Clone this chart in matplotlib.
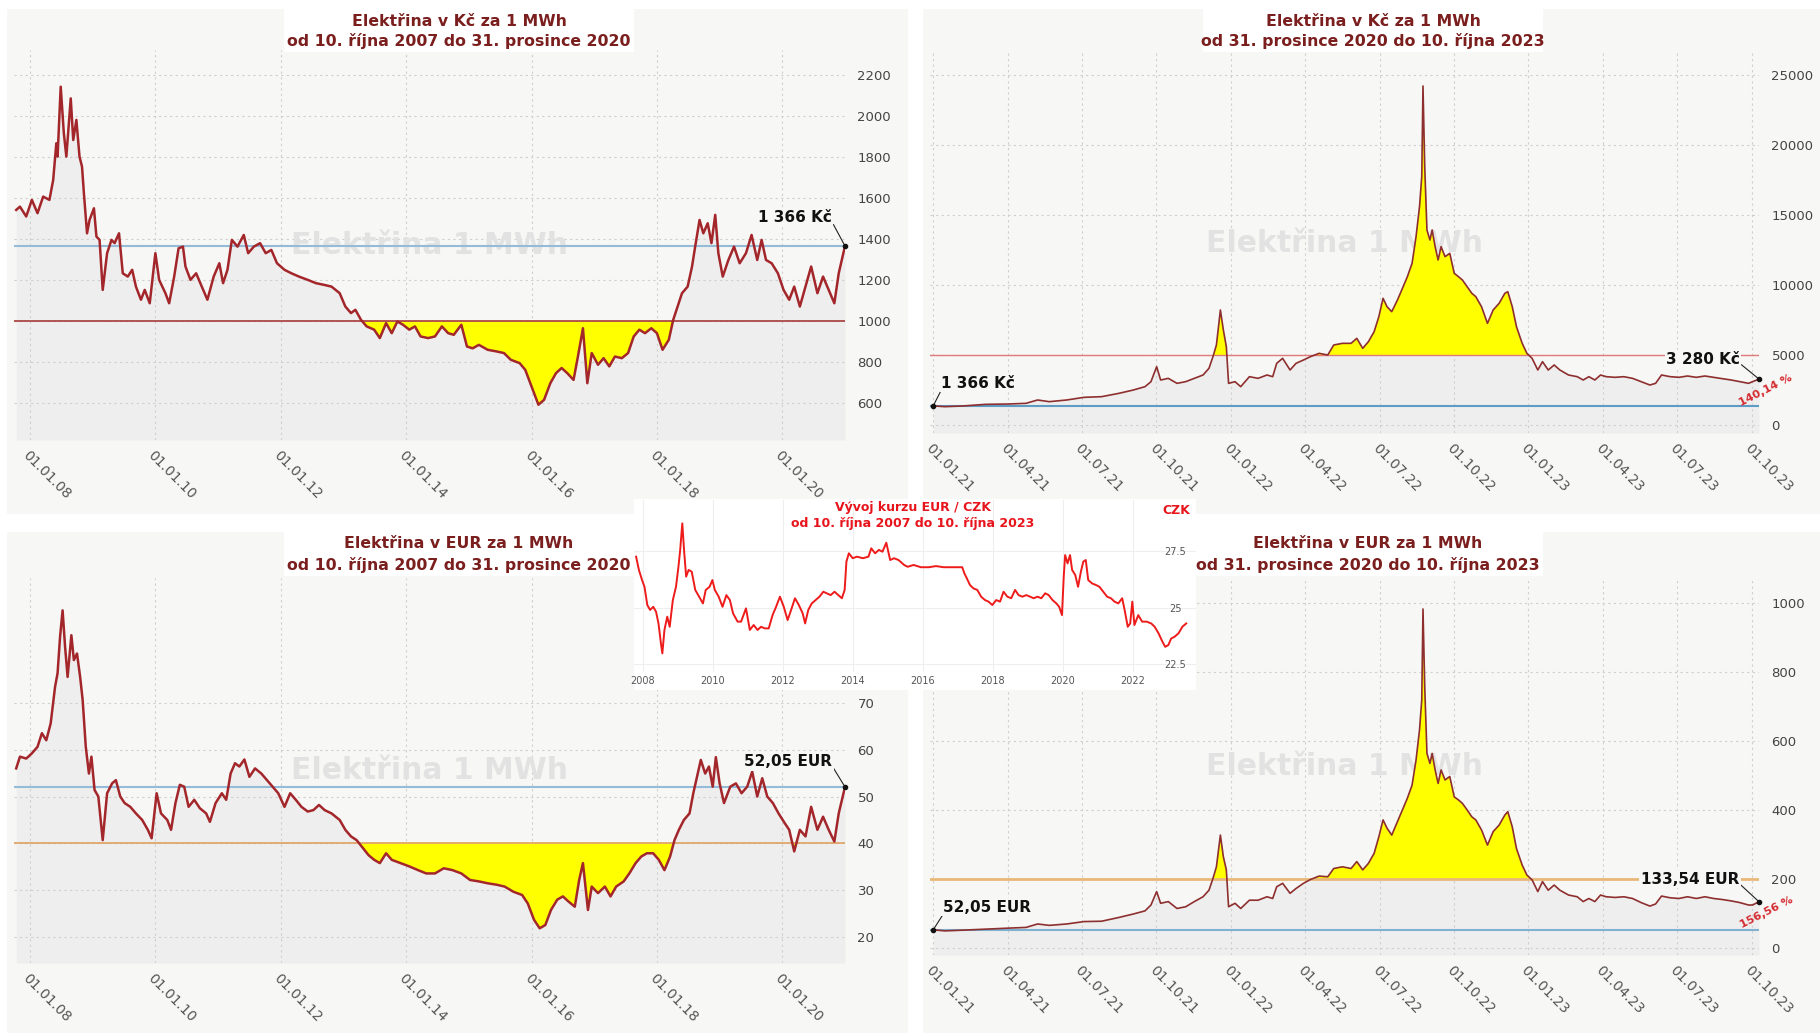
from matplotlib import pyplot as plt
from matplotlib.patches import Rectangle
import numpy as np

W, H = 1820, 1034

# Elektřina, 10.10.2007 - 31.12.2020 (x in decimal years)
czk_old_t = [2007.78, 2007.84, 2007.94, 2008.03, 2008.12, 2008.21, 2008.31, 2008.37, 2008.42, 2008.44,
             2008.49, 2008.54, 2008.58, 2008.65, 2008.69, 2008.74, 2008.79, 2008.83, 2008.86, 2008.91,
             2008.95, 2009.02, 2009.06, 2009.11, 2009.16, 2009.23, 2009.30, 2009.35, 2009.42, 2009.48,
             2009.56, 2009.63, 2009.69, 2009.77, 2009.83, 2009.91, 2010.00, 2010.06, 2010.16, 2010.22,
             2010.30, 2010.37, 2010.44, 2010.48, 2010.56, 2010.65, 2010.74, 2010.83, 2010.93, 2011.02,
             2011.08, 2011.15, 2011.22, 2011.31, 2011.41, 2011.48, 2011.57, 2011.67, 2011.76, 2011.85,
             2011.94, 2012.06, 2012.17, 2012.29, 2012.43, 2012.56, 2012.70, 2012.81, 2012.94, 2013.03,
             2013.12, 2013.19, 2013.28, 2013.37, 2013.49, 2013.58, 2013.68, 2013.77, 2013.86, 2013.95,
             2014.05, 2014.14, 2014.23, 2014.35, 2014.46, 2014.57, 2014.67, 2014.76, 2014.88, 2014.97,
             2015.06, 2015.16, 2015.30, 2015.44, 2015.56, 2015.67, 2015.81, 2015.90, 2015.96, 2016.04,
             2016.11, 2016.20, 2016.30, 2016.39, 2016.48, 2016.57, 2016.67, 2016.74, 2016.82, 2016.89,
             2016.96, 2017.06, 2017.15, 2017.24, 2017.33, 2017.44, 2017.54, 2017.63, 2017.72, 2017.81,
             2017.91, 2018.00, 2018.09, 2018.19, 2018.26, 2018.33, 2018.40, 2018.49, 2018.56, 2018.61,
             2018.68, 2018.74, 2018.81, 2018.87, 2018.93, 2018.98, 2019.05, 2019.14, 2019.23, 2019.32,
             2019.42, 2019.51, 2019.60, 2019.67, 2019.74, 2019.83, 2019.93, 2020.02, 2020.11, 2020.19,
             2020.28, 2020.37, 2020.46, 2020.56, 2020.65, 2020.74, 2020.83, 2020.90, 2021.00]
czk_old_v = [1542, 1558, 1510, 1591, 1526, 1607, 1591, 1688, 1867, 1802,
             2143, 1916, 1802, 2086, 1883, 1981, 1802, 1753, 1623, 1428,
             1493, 1550, 1412, 1396, 1152, 1331, 1396, 1380, 1428, 1233,
             1217, 1250, 1168, 1104, 1152, 1087, 1331, 1201, 1136, 1087,
             1217, 1355, 1363, 1266, 1201, 1233, 1168, 1104, 1217, 1282,
             1185, 1250, 1396, 1363, 1420, 1331, 1363, 1380, 1331, 1347,
             1282, 1250, 1233, 1217, 1201, 1185, 1176, 1168, 1136, 1071,
             1039, 1055, 1006, 974, 958, 917, 990, 941, 998, 982,
             958, 974, 925, 917, 925, 974, 941, 933, 982, 876,
             867, 884, 860, 852, 844, 811, 795, 762, 713, 649,
             592, 616, 697, 746, 771, 746, 713, 827, 965, 697,
             844, 787, 819, 779, 827, 819, 844, 925, 958, 941,
             965, 941, 860, 909, 1006, 1071, 1136, 1168, 1266, 1363,
             1493, 1428, 1477, 1380, 1518, 1331, 1217, 1298, 1363, 1282,
             1331, 1420, 1298, 1396, 1298, 1282, 1233, 1152, 1104, 1168,
             1071, 1168, 1266, 1136, 1217, 1152, 1087, 1233, 1366]

eur_old_t = [2007.78, 2007.84, 2007.94, 2008.03, 2008.12, 2008.19, 2008.26, 2008.33, 2008.40, 2008.44,
             2008.48, 2008.52, 2008.56, 2008.60, 2008.66, 2008.70, 2008.75, 2008.80, 2008.84, 2008.89,
             2008.94, 2008.98, 2009.03, 2009.09, 2009.16, 2009.23, 2009.31, 2009.37, 2009.44, 2009.51,
             2009.60, 2009.69, 2009.79, 2009.88, 2009.94, 2010.02, 2010.09, 2010.19, 2010.25, 2010.32,
             2010.39, 2010.46, 2010.53, 2010.62, 2010.71, 2010.81, 2010.87, 2010.96, 2011.06, 2011.13,
             2011.20, 2011.27, 2011.34, 2011.42, 2011.50, 2011.59, 2011.69, 2011.78, 2011.87, 2011.96,
             2012.06, 2012.15, 2012.24, 2012.33, 2012.43, 2012.52, 2012.61, 2012.70, 2012.81, 2012.94,
             2013.03, 2013.12, 2013.21, 2013.31, 2013.40, 2013.49, 2013.58, 2013.68, 2013.77, 2013.91,
             2014.05, 2014.19, 2014.32, 2014.46, 2014.60, 2014.74, 2014.88, 2015.02, 2015.16, 2015.30,
             2015.44, 2015.57, 2015.71, 2015.85, 2015.94, 2016.04, 2016.13, 2016.22, 2016.31, 2016.41,
             2016.50, 2016.59, 2016.69, 2016.76, 2016.82, 2016.90, 2016.96, 2017.06, 2017.17, 2017.26,
             2017.35, 2017.47, 2017.56, 2017.66, 2017.75, 2017.84, 2017.94, 2018.03, 2018.12, 2018.21,
             2018.28, 2018.35, 2018.43, 2018.52, 2018.58, 2018.65, 2018.70, 2018.77, 2018.83, 2018.89,
             2018.94, 2019.00, 2019.07, 2019.17, 2019.26, 2019.35, 2019.44, 2019.52, 2019.60, 2019.68,
             2019.76, 2019.85, 2019.94, 2020.04, 2020.11, 2020.19, 2020.28, 2020.37, 2020.46, 2020.56,
             2020.65, 2020.74, 2020.83, 2020.90, 2021.00]
eur_old_v = [56.0, 58.5, 58.1, 59.2, 60.6, 63.5, 62.0, 65.6, 73.4, 76.3,
             84.1, 89.7, 81.9, 75.5, 84.4, 79.1, 80.5, 75.5, 70.6, 60.6,
             54.9, 58.5, 51.4, 50.0, 40.7, 50.7, 52.8, 53.5, 50.0, 48.6,
             47.8, 46.4, 45.0, 42.9, 41.1, 50.7, 46.4, 45.0, 42.9, 48.6,
             52.5, 52.1, 47.8, 49.3, 47.5, 46.4, 44.6, 48.6, 50.7, 49.3,
             54.9, 57.1, 56.4, 57.9, 54.2, 56.0, 54.9, 53.5, 52.1, 50.7,
             47.8, 50.7, 49.3, 47.8, 46.8, 47.1, 48.2, 47.1, 46.4, 45.0,
             42.9, 41.5, 40.7, 39.0, 37.5, 36.5, 35.8, 37.9, 36.5, 35.8,
             35.1, 34.3, 33.6, 33.6, 34.7, 34.3, 33.6, 32.2, 31.9, 31.5,
             31.2, 30.8, 29.7, 29.0, 27.2, 23.7, 21.9, 22.6, 25.8, 28.0,
             28.7, 27.6, 26.5, 32.2, 35.8, 25.8, 30.8, 29.4, 30.8, 28.7,
             30.8, 31.9, 33.6, 35.8, 37.2, 37.9, 37.9, 36.5, 34.3, 37.2,
             40.7, 42.9, 45.0, 46.4, 50.7, 54.9, 57.8, 54.9, 56.4, 52.1,
             58.4, 52.8, 48.6, 52.1, 52.8, 50.7, 52.1, 55.3, 50.0, 53.9,
             50.0, 48.6, 46.4, 44.3, 42.9, 38.3, 42.9, 41.5, 47.8, 42.9,
             45.7, 42.9, 40.4, 46.4, 52.05]

# Elektřina, 31.12.2020 - 10.10.2023 (x in months from 1.1.2021)
new_m = [0, 0.47, 1.17, 2.11, 3.04, 3.74, 4.21, 4.68, 5.38, 6.08,
         6.79, 7.49, 8.07, 8.54, 8.78, 9.01, 9.17, 9.48, 9.83, 10.18,
         10.53, 10.88, 11.12, 11.28, 11.42, 11.58, 11.70, 11.82, 11.91, 12.17,
         12.40, 12.75, 13.10, 13.46, 13.69, 13.85, 14.09, 14.39, 14.63, 14.93,
         15.21, 15.56, 15.91, 16.15, 16.50, 16.85, 17.08, 17.32, 17.55, 17.78,
         17.97, 18.14, 18.30, 18.49, 18.72, 18.95, 19.12, 19.31, 19.47, 19.61,
         19.70, 19.75, 19.82, 19.91, 20.03, 20.12, 20.24, 20.36, 20.48, 20.64,
         20.83, 21.01, 21.18, 21.34, 21.53, 21.72, 21.88, 22.11, 22.35, 22.58,
         22.82, 23.05, 23.17, 23.35, 23.52, 23.75, 23.94, 24.15, 24.38, 24.57,
         24.80, 25.04, 25.27, 25.62, 25.97, 26.21, 26.44, 26.68, 26.91, 27.14,
         27.50, 27.85, 28.20, 28.55, 28.90, 29.13, 29.37, 29.72, 30.07, 30.42,
         30.77, 31.12, 31.47, 31.82, 32.18, 32.53, 32.88, 33.04, 33.3]
czk_new_v = [1366, 1310, 1357, 1476, 1500, 1548, 1786, 1667, 1786, 1976,
             2024, 2262, 2500, 2738, 3095, 4167, 3214, 3333, 2976, 3095,
             3333, 3571, 4048, 4881, 5714, 8214, 6786, 5595, 2976, 3095,
             2738, 3452, 3333, 3571, 3452, 4405, 4762, 3929, 4405, 4643,
             4881, 5119, 5000, 5714, 5833, 5833, 6190, 5476, 5952, 6667,
             7738, 9048, 8452, 8095, 8929, 9881, 10595, 11548, 13452, 15595,
             17738, 24214, 18452, 13929, 13214, 13929, 12738, 11786, 12738, 12024,
             12262, 10833, 10595, 10357, 9881, 9405, 9167, 8452, 7262, 8214,
             8690, 9405, 9524, 8452, 7024, 5833, 5119, 4762, 3929, 4524,
             3929, 4286, 3929, 3571, 3452, 3214, 3452, 3214, 3571, 3452,
             3405, 3452, 3333, 3095, 2857, 2976, 3571, 3452, 3405, 3500,
             3405, 3500, 3405, 3310, 3214, 3095, 2976, 3095, 3280]
eur_new_v = [52.05, 49, 51, 54, 57, 59, 69, 65, 69, 76,
             77, 88, 98, 107, 124, 163, 129, 134, 114, 119,
             134, 148, 167, 201, 235, 327, 264, 226, 119, 129,
             114, 138, 138, 148, 143, 177, 187, 158, 172, 187,
             198, 208, 206, 230, 235, 230, 250, 226, 245, 274,
             322, 371, 347, 327, 366, 405, 434, 472, 545, 632,
             719, 983, 758, 564, 535, 564, 516, 477, 516, 487,
             497, 438, 429, 419, 400, 380, 371, 342, 298, 337,
             356, 385, 395, 351, 288, 240, 211, 197, 163, 192,
             167, 182, 167, 153, 148, 134, 143, 134, 153, 148,
             146, 148, 143, 131, 121, 127, 150, 145, 143, 148,
             143, 148, 143, 140, 136, 131, 124, 124, 133.54]

# EUR / CZK
fx_t = [2007.81, 2007.89, 2007.98, 2008.05, 2008.13, 2008.21, 2008.30, 2008.38, 2008.45, 2008.52,
        2008.56, 2008.62, 2008.70, 2008.77, 2008.86, 2008.95, 2009.02, 2009.07, 2009.13, 2009.18,
        2009.24, 2009.31, 2009.40, 2009.50, 2009.61, 2009.72, 2009.80, 2009.91, 2009.99, 2010.06,
        2010.17, 2010.28, 2010.39, 2010.49, 2010.58, 2010.71, 2010.81, 2010.95, 2011.06, 2011.17,
        2011.28, 2011.38, 2011.49, 2011.60, 2011.71, 2011.81, 2011.92, 2012.03, 2012.14, 2012.24,
        2012.35, 2012.46, 2012.57, 2012.64, 2012.73, 2012.83, 2012.94, 2013.05, 2013.16, 2013.26,
        2013.37, 2013.48, 2013.59, 2013.69, 2013.77, 2013.82, 2013.89, 2014.00, 2014.12, 2014.29,
        2014.45, 2014.53, 2014.64, 2014.75, 2014.85, 2014.96, 2015.07, 2015.18, 2015.31, 2015.47,
        2015.57, 2015.74, 2015.95, 2016.17, 2016.38, 2016.60, 2016.81, 2017.03, 2017.13, 2017.19,
        2017.26, 2017.35, 2017.45, 2017.56, 2017.67, 2017.78, 2017.88, 2017.99, 2018.10, 2018.21,
        2018.31, 2018.42, 2018.53, 2018.64, 2018.74, 2018.85, 2018.96, 2019.07, 2019.17, 2019.28,
        2019.39, 2019.50, 2019.60, 2019.71, 2019.82, 2019.90, 2019.98, 2020.03, 2020.07, 2020.14,
        2020.21, 2020.27, 2020.36, 2020.44, 2020.52, 2020.59, 2020.66, 2020.73, 2020.84, 2020.95,
        2021.05, 2021.16, 2021.27, 2021.38, 2021.48, 2021.59, 2021.70, 2021.77, 2021.86, 2021.93,
        2021.99, 2022.05, 2022.16, 2022.27, 2022.40, 2022.53, 2022.63, 2022.74, 2022.85, 2022.93,
        2023.02, 2023.10, 2023.20, 2023.31, 2023.42, 2023.53]
fx_v = [27.27, 26.68, 26.23, 25.93, 25.12, 24.90, 25.04, 24.82, 24.30, 23.41,
        22.97, 24.01, 24.60, 24.15, 25.34, 25.93, 26.82, 27.57, 28.75, 27.57,
        26.38, 26.68, 26.60, 25.79, 25.49, 25.19, 25.79, 25.93, 26.23, 25.79,
        25.49, 25.04, 25.56, 25.34, 24.75, 24.38, 24.38, 24.97, 24.01, 24.23,
        24.01, 24.15, 24.08, 24.08, 24.67, 25.04, 25.49, 25.04, 24.45, 24.90,
        25.42, 25.12, 24.75, 24.30, 24.90, 25.19, 25.34, 25.49, 25.71, 25.64,
        25.56, 25.71, 25.56, 25.42, 25.79, 27.05, 27.42, 27.20, 27.27, 27.20,
        27.27, 27.64, 27.42, 27.57, 27.49, 27.89, 27.12, 27.20, 27.12, 26.90,
        26.82, 26.90, 26.80, 26.80, 26.85, 26.80, 26.80, 26.80, 26.80, 26.53,
        26.31, 26.01, 25.86, 25.79, 25.49, 25.34, 25.27, 25.12, 25.34, 25.27,
        25.71, 25.49, 25.42, 25.79, 25.56, 25.49, 25.56, 25.49, 25.42, 25.49,
        25.42, 25.64, 25.56, 25.34, 25.19, 25.04, 24.67, 26.38, 27.34, 26.97,
        27.34, 26.68, 26.45, 25.93, 26.60, 27.05, 27.12, 26.23, 26.08, 26.01,
        25.93, 25.71, 25.49, 25.42, 25.27, 25.19, 25.42, 24.90, 24.15, 24.30,
        25.27, 24.23, 24.67, 24.38, 24.38, 24.30, 24.15, 23.86, 23.49, 23.26,
        23.34, 23.63, 23.71, 23.86, 24.15, 24.30]

old_ticks = [2008, 2010, 2012, 2014, 2016, 2018, 2020]
old_labels = ['01.01.08', '01.01.10', '01.01.12', '01.01.14', '01.01.16', '01.01.18', '01.01.20']
new_ticks = [0, 3, 6, 9, 12, 15, 18, 21, 24, 27, 30, 33]
new_labels = ['01.01.21', '01.04.21', '01.07.21', '01.10.21', '01.01.22', '01.04.22',
              '01.07.22', '01.10.22', '01.01.23', '01.04.23', '01.07.23', '01.10.23']
fx_ticks = [2008, 2010, 2012, 2014, 2016, 2018, 2020, 2022]

PANEL = '#f7f7f5'
TITLE = '#7a1e1e'

fig = plt.figure(figsize=(W / 100, H / 100), dpi=100)
fig.patch.set_facecolor('white')


def fy(y):
    return 1 - y / H


def rect(x0, y0, x1, y1, color, z):
    fig.add_artist(Rectangle((x0 / W, fy(y1)), (x1 - x0) / W, (y1 - y0) / H,
                             transform=fig.transFigure, facecolor=color,
                             edgecolor='none', zorder=z))


def axes_px(x0, y0, x1, y1, z=1):
    return fig.add_axes([x0 / W, fy(y1), (x1 - x0) / W, (y1 - y0) / H], zorder=z)


def panel(box, t, v, xlim, ylim, yticks, xticks, xlabels, base, ref,
          base_col, base_lw, ref_col, above, line_col, lw):
    ax = axes_px(*box)
    ax.set_facecolor('none')
    t = np.asarray(t)
    v = np.asarray(v)
    ax.fill_between(t, v, ylim[0], color='#eeeeee', lw=0, zorder=0.3)
    where = v > base if above else v < base
    ax.fill_between(t, v, base, where=where, interpolate=True,
                    color='#ffff00', lw=0, zorder=2)
    ax.axhline(base, color=base_col, lw=base_lw, zorder=2.5)
    ax.axhline(ref, color=ref_col, lw=1.5, zorder=2.5)
    ax.plot(t, v, color=line_col, lw=lw, zorder=3)
    ax.text(0.5, 0.5, 'Elektřina 1 MWh', transform=ax.transAxes, ha='center',
            va='center', fontsize=21.5, fontweight='bold', color='#e2e2e2', zorder=1)
    ax.set_xlim(*xlim)
    ax.set_ylim(*ylim)
    ax.set_yticks(yticks)
    ax.yaxis.tick_right()
    ax.set_xticks(xticks)
    ax.set_xticklabels(xlabels, rotation=-45, ha='left', va='top',
                       rotation_mode='anchor')
    ax.tick_params(axis='y', length=0, pad=9, labelsize=9.5, colors='#444444')
    ax.tick_params(axis='x', length=0, pad=6, labelsize=10, colors='#555555')
    ax.set_axisbelow(True)
    ax.grid(True, color='#cfcfcf', lw=0.8, ls=(0, (2, 3)))
    for s in ax.spines.values():
        s.set_visible(False)
    return ax


def note(ax, text, xy, pos, rel):
    ax.annotate(text, xy=xy, xytext=(pos[0] / W, fy(pos[1])),
                textcoords='figure fraction', ha='center', va='center',
                fontsize=11, fontweight='bold', color='#111111', zorder=5,
                bbox=dict(boxstyle='square,pad=0.1', fc=PANEL, ec='none'),
                arrowprops=dict(arrowstyle='-', color='#222222', lw=0.8,
                                shrinkA=0, shrinkB=1, relpos=rel))
    ax.plot([xy[0]], [xy[1]], 'o', ms=3, color='#111111', zorder=5, clip_on=False)


def titles(cx, y1, y2, l1, l2):
    for y, s in ((y1, l1), (y2, l2)):
        fig.text(cx / W, fy(y), s, ha='center', va='center', fontsize=11.3,
                 fontweight='bold', color=TITLE, zorder=3)


# panel backgrounds and title boxes
rect(7, 9, 908, 514, PANEL, -1)
rect(923, 9, 1820, 514, PANEL, -1)
rect(7, 532, 908, 1033, PANEL, -1)
rect(923, 532, 1820, 1033, PANEL, -1)
rect(284, 9, 634, 52, 'white', 2)
rect(1203, 9, 1543, 52, 'white', 2)
rect(284, 532, 634, 576, 'white', 2)
rect(1194, 532, 1543, 576, 'white', 2)

# Kč, 2007-2020
ax1 = panel((14, 50, 845, 440), czk_old_t, czk_old_v, (2007.745, 2021.0), (420, 2322),
            range(600, 2201, 200), old_ticks, old_labels, 1000, 1366,
            '#a83a3a', 1.2, '#94bcd8', False, '#a3262b', 1.8)
note(ax1, '1 366 Kč', (czk_old_t[-1], czk_old_v[-1]), (795, 218), (1, 0.25))
titles(459, 21, 41, 'Elektřina v Kč za 1 MWh', 'od 10. října 2007 do 31. prosince 2020')

# Kč, 2021-2023
ax2 = panel((930, 53, 1759, 433), new_m, czk_new_v, (-0.13, 33.3), (-571, 26571),
            range(0, 25001, 5000), new_ticks, new_labels, 5000, 1366,
            '#e27a7a', 1.0, '#5e9cc6', True, '#8e2f2f', 1.2)
note(ax2, '1 366 Kč', (new_m[0], czk_new_v[0]), (978, 383), (0, 0))
note(ax2, '3 280 Kč', (new_m[-1], czk_new_v[-1]), (1703, 359), (1, 0.2))
titles(1373, 21, 41, 'Elektřina v Kč za 1 MWh', 'od 31. prosince 2020 do 10. října 2023')
fig.text(1766 / W, fy(390), '140,14 %', rotation=27, ha='center', va='center',
         fontsize=8, fontweight='bold', color='#d42a30', zorder=3)

# EUR, 2007-2020
ax3 = panel((14, 578, 845, 963), eur_old_t, eur_old_v, (2007.745, 2021.0), (14.5, 96.6),
            range(20, 71, 10), old_ticks, old_labels, 40, 52.05,
            '#e0a060', 1.2, '#94bcd8', False, '#a3262b', 1.8)
note(ax3, '52,05 EUR', (eur_old_t[-1], eur_old_v[-1]), (788, 762), (1, 0.25))
titles(459, 543, 565, 'Elektřina v EUR za 1 MWh', 'od 10. října 2007 do 31. prosince 2020')

# EUR, 2021-2023
ax4 = panel((930, 578, 1759, 955), new_m, eur_new_v, (-0.13, 33.3), (-21, 1073),
            range(0, 1001, 200), new_ticks, new_labels, 200, 52.05,
            '#e9b878', 2.0, '#7fb2d2', True, '#8e2f2f', 1.2)
note(ax4, '52,05 EUR', (new_m[0], eur_new_v[0]), (987, 907), (0, 0))
note(ax4, '133,54 EUR', (new_m[-1], eur_new_v[-1]), (1690, 879), (1, 0.2))
titles(1368, 543, 565, 'Elektřina v EUR za 1 MWh', 'od 31. prosince 2020 do 10. října 2023')
fig.text(1767 / W, fy(912), '156,56 %', rotation=27, ha='center', va='center',
         fontsize=8, fontweight='bold', color='#d42a30', zorder=3)

# EUR / CZK inset
rect(634, 499, 1196, 690, 'white', 4)
ins = axes_px(634, 500, 1196, 672, z=5)
ins.set_facecolor('white')
ins.plot(fx_t, fx_v, color='#ee1b1b', lw=1.4, zorder=3)
ins.set_xlim(2007.75, 2023.81)
ins.set_ylim(22.14, 29.79)
ins.set_xticks(fx_ticks)
ins.set_yticks([22.5, 25, 27.5])
ins.set_yticklabels(['22.5', '25', '27.5'])
ins.yaxis.tick_right()
ins.tick_params(axis='y', length=0, pad=-15, labelsize=7, colors='#555555')
for lab in ins.get_yticklabels():
    lab.set_horizontalalignment('center')
ins.tick_params(axis='x', length=0, pad=3, labelsize=7, colors='#555555')
ins.grid(True, color='#eeeeee', lw=0.8)
ins.set_axisbelow(True)
for s in ins.spines.values():
    s.set_visible(False)
fig.text(913 / W, fy(508), 'Vývoj kurzu EUR / CZK', ha='center', va='center',
         fontsize=9, fontweight='bold', color='#e8141c', zorder=6)
fig.text(913 / W, fy(524), 'od 10. října 2007 do 10. října 2023', ha='center', va='center',
         fontsize=9, fontweight='bold', color='#e8141c', zorder=6)
fig.text(1176 / W, fy(511), 'CZK', ha='center', va='center',
         fontsize=9, fontweight='bold', color='#e8141c', zorder=6)

fig.savefig('out.png', dpi=100, facecolor='white')
